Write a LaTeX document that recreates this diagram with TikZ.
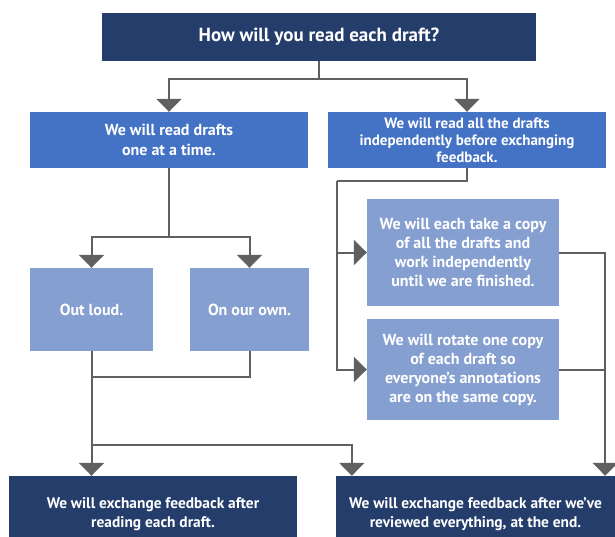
\documentclass[tikz,border=0pt]{standalone}
\usepackage{fontspec}
\setmainfont{PT Sans}
\usetikzlibrary{arrows.meta}
\definecolor{navy}{HTML}{243D6B}
\definecolor{midblue}{HTML}{4472C4}
\definecolor{paleblue}{HTML}{869FD1}
\definecolor{linegray}{HTML}{606060}
\tikzset{
	box/.style={fill=#1,text=white,align=center,inner sep=0pt},
	txt/.style={font=\fontsize{16}{19}\selectfont\bfseries},
	link/.style={draw=linegray,line width=2pt},
	arr/.style={link,-{Triangle[width=25pt,length=13pt]}},
}
\begin{document}
\begin{tikzpicture}[x=1pt,y=-1pt]
\useasboundingbox (0,0) rectangle (615,537);
\clip (0,0) rectangle (615,537);
\node[box=navy,minimum width=434pt,minimum height=48pt,font=\fontsize{19}{22}\selectfont\bfseries,name=q] at (319,37){How will you read each draft?};
\node[box=midblue,txt,font=\fontsize{16}{20}\selectfont\bfseries,minimum width=278pt,minimum height=56pt,text depth=0pt,name=rA] at (169,140){We will read drafts\\one at a time.};
\node[box=midblue,txt,font=\fontsize{15}{17}\selectfont\bfseries,minimum width=278pt,minimum height=56pt,name=rB] at (467,140){We will read all the drafts\\independently before exchanging\\feedback.};
\node[box=paleblue,txt,minimum width=123pt,minimum height=83pt,name=loud] at (91.5,309.5){Out loud.};
\node[box=paleblue,txt,minimum width=119pt,minimum height=83pt,name=own] at (249.5,309.5){On our own.};
\node[box=paleblue,txt,minimum width=192pt,minimum height=106pt,name=copyA] at (463,252.5){We will each take a copy\\of all the drafts and\\work independently\\until we are finished.};
\node[box=paleblue,txt,minimum width=192pt,minimum height=101pt,name=copyB] at (463,369.5){We will rotate one copy\\of each draft so\\everyone’s annotations\\are on the same copy.};
\node[box=navy,txt,font=\fontsize{15.4}{19}\selectfont\bfseries,minimum width=288pt,minimum height=76pt,name=fA] at (153,514){We will exchange feedback after\\reading each draft.};
\node[box=navy,txt,font=\fontsize{15.4}{19}\selectfont\bfseries,minimum width=279pt,minimum height=76pt,name=fB] at (475.5,514){We will exchange feedback after we’ve\\reviewed everything, at the end.};
\coordinate (t1) at (319,79);
\draw[link] (q.south) -- (t1);
\foreach \n in {rA,rB}{
	\draw[arr] (t1) -| (\n.north);
};
\coordinate (t2) at (169,237);
\draw[link] (rA.south) -- (t2);
\foreach \n in {loud,own}{
	\draw[arr] (t2) -| (\n.north);
};
\coordinate (t3) at (249.5,377);
\draw[link] (own.south) -- (t3) -- (loud.south |- t3);
\draw[arr] (loud.south) -- (loud.south |- fA.north);
\coordinate (t4) at (91.5,445);
\draw[arr] (t4) -| ([xshift=16pt]fB.north west);
\coordinate (t5) at (337,181);
\draw[link] (rB.south) |- (t5);
\foreach \n in {copyA,copyB}{
	\draw[arr] (t5) |- (\n.west);
};
\coordinate (t6) at ([xshift=-10pt]fB.north east);
\draw[arr] (copyA.east) -| (t6);
\draw[link] (copyB.east) -- (t6 |- copyB.east);
\end{tikzpicture}
\end{document}
